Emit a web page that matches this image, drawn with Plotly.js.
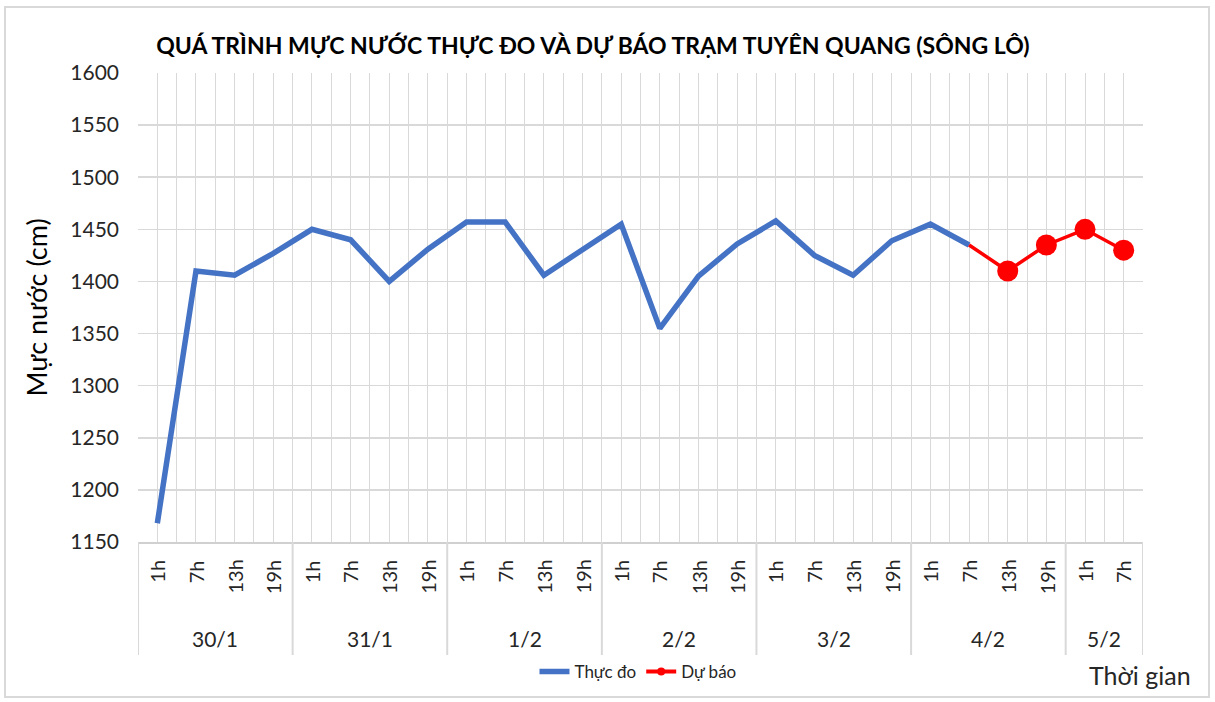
<!DOCTYPE html>
<html>
<head>
<meta charset="utf-8">
<script src="https://cdn.plot.ly/plotly-3.0.1.min.js"></script>
<style>
  html, body { margin: 0; padding: 0; background: #fff; }
  #wrap { position: relative; width: 1215px; height: 702px; }
  #chart { width: 1215px; height: 702px; }
  #frame { position: absolute; left: 4px; top: 6px; width: 1206px; height: 692px;
           border: 2px solid #d9d9d9; pointer-events: none; box-sizing: border-box; }
</style>
</head>
<body>
<div id="wrap"><div id="chart"></div><div id="frame"></div></div>
<script>
// ---- data ----
const hourLabels = ['1h','7h','13h','19h','1h','7h','13h','19h','1h','7h','13h','19h',
                    '1h','7h','13h','19h','1h','7h','13h','19h','1h','7h','13h','19h','1h','7h'];
const dayLabels = ['30/1','31/1','1/2','2/2','3/2','4/2','5/2'];
const daySpans  = [4,4,4,4,4,4,2];
const observed = [1168,1410,1406,1427, 1450,1440,1400,1431, 1457,1457,1406,1431,
                  1455,1355,1405,1436, 1458,1425,1406,1439, 1455,1435];
const forecastStart = 21;
const forecast = [1435,1410,1435,1450,1430];

const xObs = observed.map((_, i) => i);
const xFc  = forecast.map((_, i) => forecastStart + i);
// first forecast point joins the observed line and has no marker
const fcMarkerSizes = forecast.map((_, i) => (i === 0 ? 0 : 21));

const FONT = 'Lato, "Open Sans", "Liberation Sans", sans-serif';
const txt = '#262626';

const traces = [
  { x: xObs, y: observed, type: 'scatter', mode: 'lines', name: 'Thực đo',
    line: { color: '#4472C4', width: 5.5 } },
  { x: xFc, y: forecast, type: 'scatter', mode: 'lines+markers', name: 'Dự báo',
    showlegend: false,
    line: { color: '#FF0000', width: 3.5 },
    marker: { color: '#FF0000', size: fcMarkerSizes, opacity: 1, line: { width: 0 } } },
  // legend entry for the forecast (small marker, as in the legend of the reference)
  { x: [null], y: [null], type: 'scatter', mode: 'lines+markers', name: 'Dự báo',
    line: { color: '#FF0000', width: 4 }, marker: { color: '#FF0000', size: 8, opacity: 1 } }
];

// label area below plot (paper coordinates)
const plotH = 702 - 73 - 156;
const px = p => -p / plotH;

const annotations = [];
hourLabels.forEach((h, i) => {
  annotations.push({ x: i, y: px(16), xref: 'x', yref: 'paper', text: h, showarrow: false,
    textangle: -90, xanchor: 'center', yanchor: 'top',
    font: { family: FONT, size: 20, color: txt } });
});
const shapes = [];
let start = 0;
shapes.push({ type: 'line', xref: 'x', yref: 'paper', x0: -0.5, x1: -0.5, y0: 0, y1: px(114),
  line: { color: '#d9d9d9', width: 2 } });
dayLabels.forEach((d, k) => {
  const center = start + (daySpans[k] - 1) / 2;
  annotations.push({ x: center, y: px(97), xref: 'x', yref: 'paper', text: d, showarrow: false,
    xanchor: 'center', yanchor: 'middle', font: { family: FONT, size: 21, color: txt } });
  start += daySpans[k];
  shapes.push({ type: 'line', xref: 'x', yref: 'paper', x0: start - 0.5, x1: start - 0.5,
    y0: 0, y1: px(114), line: { color: '#d9d9d9', width: 2 } });
});
annotations.push({ x: (1193 - 138) / (1215 - 138 - 72), y: px(680 - 546),
  xref: 'paper', yref: 'paper', text: 'Thời gian', showarrow: false,
  xanchor: 'right', yanchor: 'middle', font: { family: FONT, size: 25, color: txt } });

const layout = {
  width: 1215, height: 702,
  margin: { l: 138, r: 72, t: 73, b: 156 },
  paper_bgcolor: 'rgba(0,0,0,0)', plot_bgcolor: '#fff',
  title: { text: '<b>QUÁ TRÌNH MỰC NƯỚC THỰC ĐO VÀ DỰ BÁO TRẠM TUYÊN QUANG (SÔNG LÔ)</b>',
    x: 0.488, xanchor: 'center', y: 1 - 46 / 702, yanchor: 'middle',
    font: { family: FONT, size: 23, color: '#000' } },
  xaxis: { range: [-0.5, 25.5], tick0: -0.5, dtick: 0.5, showticklabels: false,
    showgrid: true, gridcolor: '#d9d9d9', gridwidth: 1, zeroline: false,
    showline: true, linecolor: '#d0d0d0', linewidth: 2, ticks: '', fixedrange: true },
  yaxis: { range: [1150, 1600], dtick: 50, showgrid: true, gridcolor: '#d9d9d9', gridwidth: 1.5,
    zeroline: false, ticks: '', ticklabelstandoff: 18,
    tickfont: { family: FONT, size: 21, color: txt },
    title: { text: 'Mực nước (cm)', standoff: 14, font: { family: FONT, size: 27, color: '#000' } },
    fixedrange: true },
  showlegend: true,
  legend: { orientation: 'h', x: 0.4975, xanchor: 'center', y: px(677 - 546), yanchor: 'middle',
    font: { family: FONT, size: 17, color: txt }, bgcolor: 'rgba(0,0,0,0)' },
  annotations: annotations,
  shapes: shapes
};

Plotly.newPlot('chart', traces, layout, { staticPlot: true, displayModeBar: false });
</script>
</body>
</html>
